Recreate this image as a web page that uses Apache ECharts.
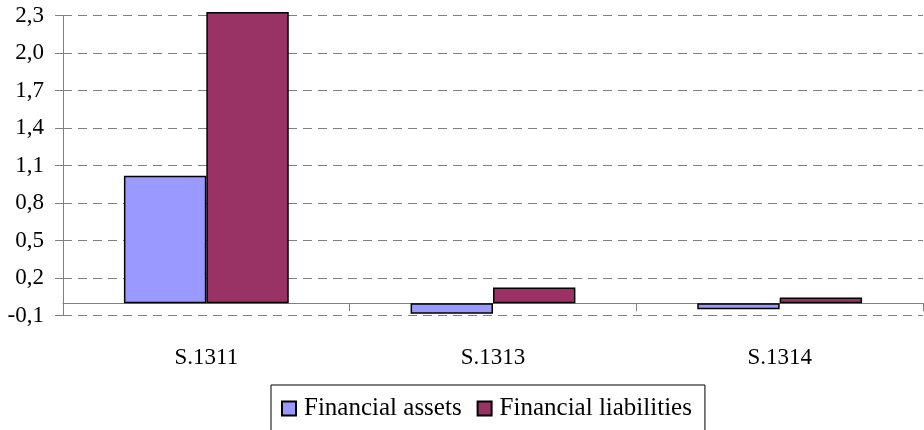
<!DOCTYPE html>
<html>
<head>
<meta charset="utf-8">
<script src="https://cdn.jsdelivr.net/npm/echarts@6/dist/echarts.min.js"></script>
<style>
  html, body { margin: 0; padding: 0; background: #fff; }
  #chart { width: 924px; height: 430px; }
</style>
</head>
<body>
<div id="chart"></div>
<script>
// categories and values
const categories = ["S.1311", "S.1313", "S.1314"];
const assets = [1.02, -0.085, -0.048];
const liabilities = [2.33, 0.125, 0.045];
const yTicks = [-0.1, 0.2, 0.5, 0.8, 1.1, 1.4, 1.7, 2.0, 2.3];

const font = "'Liberation Serif', 'Times New Roman', serif";

let chart = echarts.init(document.getElementById("chart"));
let option = {
    animation: false,
    backgroundColor: "#fff",
    textStyle: { fontFamily: font, color: "#000" },
    grid: { left: 63, right: 1, top: 15.7, bottom: 114.3, containLabel: false },
    legend: {
        left: 271, top: 385,
        padding: [11, 13, 12, 10],
        borderColor: "#000", borderWidth: 1,
        itemWidth: 14, itemHeight: 14, itemGap: 15,
        icon: "rect",
        itemStyle: { borderColor: "#000", borderWidth: 2 },
        textStyle: { fontFamily: font, fontSize: 25, color: "#000", padding: [0, 0, 0, 3] },
        data: ["Financial assets", "Financial liabilities"]
    },
    xAxis: {
        type: "category",
        data: categories,
        axisLine: { onZero: true, lineStyle: { color: "#808080", width: 1 } },
        axisTick: { show: true, length: 8, lineStyle: { color: "#808080" } },
        axisLabel: { fontFamily: font, fontSize: 23, color: "#000", margin: 31 }
    },
    yAxis: {
        type: "value",
        min: yTicks[0], max: yTicks[yTicks.length - 1], interval: 0.3,
        axisLine: { show: true, lineStyle: { color: "#808080", width: 1 } },
        axisTick: { show: true, length: 8, lineStyle: { color: "#808080" } },
        axisLabel: {
            fontFamily: font, fontSize: 23, color: "#000", margin: 19,
            formatter: (v) => v.toFixed(1).replace(".", ",")
        },
        splitLine: { show: true, lineStyle: { color: "#808080", type: [9, 6], width: 1 } }
    },
    series: [
        {
            name: "Financial assets", type: "bar", data: assets,
            barGap: "0%", barCategoryGap: "42.5%", clip: false,
            itemStyle: { color: "#9999FF", borderColor: "#000", borderWidth: 1.5 }
        },
        {
            name: "Financial liabilities", type: "bar", data: liabilities,
            barGap: "0%", barCategoryGap: "42.5%", clip: false,
            itemStyle: { color: "#993366", borderColor: "#000", borderWidth: 1.5 }
        }
    ]
};
chart.setOption(option);
</script>
</body>
</html>
